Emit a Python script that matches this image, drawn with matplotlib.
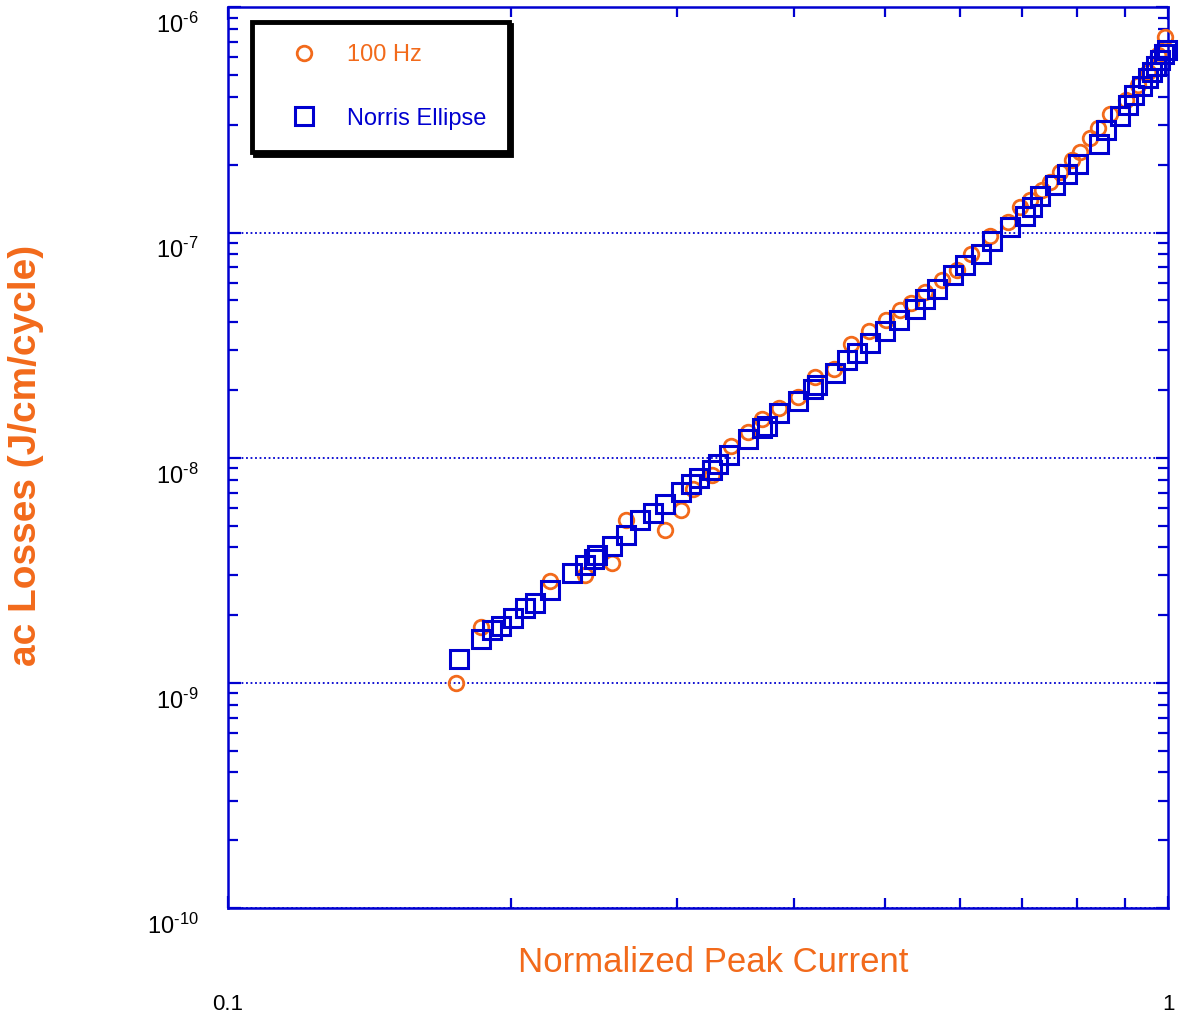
import numpy as np
import matplotlib.pyplot as plt
import matplotlib.transforms as mtransforms
from matplotlib.ticker import FixedLocator, LogLocator, FuncFormatter, NullFormatter

plt.rcParams['font.family'] = ['Liberation Sans', 'DejaVu Sans']
plt.rcParams['mathtext.fontset'] = 'custom'
plt.rcParams['mathtext.rm'] = 'Liberation Sans'
plt.rcParams['mathtext.it'] = 'Liberation Sans'

BLUE = '#0000d0'
ORANGE = '#f26a1b'

# 100 Hz measurements
hz_current = [0.175, 0.186, 0.220, 0.240, 0.256, 0.265, 0.292, 0.303, 0.312, 0.327,
              0.343, 0.357, 0.370, 0.386, 0.404, 0.421, 0.441, 0.460, 0.481, 0.501,
              0.519, 0.533, 0.552, 0.575, 0.597, 0.617, 0.647, 0.676, 0.696, 0.713,
              0.735, 0.749, 0.768, 0.791, 0.806, 0.826, 0.842, 0.868, 0.902, 0.929,
              0.952, 0.976, 0.993]
hz_loss = [1.00e-9, 1.77e-9, 2.83e-9, 3.01e-9, 3.40e-9, 5.28e-9, 4.77e-9, 5.85e-9, 7.25e-9, 8.37e-9,
           1.125e-8, 1.30e-8, 1.48e-8, 1.66e-8, 1.86e-8, 2.28e-8, 2.49e-8, 3.19e-8, 3.64e-8, 4.11e-8,
           4.51e-8, 4.89e-8, 5.42e-8, 6.19e-8, 6.85e-8, 8.07e-8, 9.70e-8, 1.12e-7, 1.30e-7, 1.40e-7,
           1.55e-7, 1.67e-7, 1.85e-7, 2.11e-7, 2.29e-7, 2.64e-7, 2.92e-7, 3.37e-7, 3.89e-7, 4.53e-7,
           5.18e-7, 6.16e-7, 7.40e-7]

# Norris ellipse prediction
norris_current = [0.176, 0.186, 0.191, 0.195, 0.201, 0.207, 0.212, 0.220, 0.232, 0.240,
                  0.245, 0.247, 0.256, 0.265, 0.274, 0.283, 0.292, 0.303, 0.311, 0.317,
                  0.327, 0.332, 0.341, 0.357, 0.370, 0.374, 0.386, 0.404, 0.419, 0.423,
                  0.442, 0.456, 0.467, 0.482, 0.500, 0.517, 0.538, 0.552, 0.568, 0.591,
                  0.608, 0.633, 0.650, 0.679, 0.705, 0.717, 0.731, 0.758, 0.781, 0.802,
                  0.845, 0.859, 0.889, 0.907, 0.920, 0.938, 0.952, 0.962, 0.971, 0.981,
                  0.990, 0.998]
norris_loss = [1.28e-9, 1.57e-9, 1.72e-9, 1.79e-9, 1.94e-9, 2.15e-9, 2.26e-9, 2.59e-9, 3.08e-9, 3.34e-9,
               3.55e-9, 3.70e-9, 4.05e-9, 4.53e-9, 5.28e-9, 5.67e-9, 6.22e-9, 7.03e-9, 7.63e-9, 8.11e-9,
               8.80e-9, 9.36e-9, 1.03e-8, 1.21e-8, 1.35e-8, 1.39e-8, 1.58e-8, 1.78e-8, 2.03e-8, 2.10e-8,
               2.37e-8, 2.71e-8, 2.91e-8, 3.22e-8, 3.64e-8, 4.07e-8, 4.56e-8, 5.05e-8, 5.59e-8, 6.51e-8,
               7.21e-8, 8.07e-8, 9.22e-8, 1.06e-7, 1.19e-7, 1.30e-7, 1.46e-7, 1.62e-7, 1.83e-7, 2.02e-7,
               2.48e-7, 2.86e-7, 3.30e-7, 3.70e-7, 4.09e-7, 4.49e-7, 4.87e-7, 5.18e-7, 5.50e-7, 5.85e-7,
               6.22e-7, 6.48e-7]

x_major = [0.1, 1]
y_major = [1e-10, 1e-9, 1e-8, 1e-7, 1e-6]

fig = plt.figure(figsize=(11.85, 10.23), dpi=100)
ax = fig.add_axes([0.1924, 0.1124, 0.7933, 0.8803])

ax.plot(hz_current, hz_loss, linestyle='none', marker='o', markersize=10.5,
        markerfacecolor='none', markeredgecolor=ORANGE, markeredgewidth=2,
        label='100 Hz', clip_on=False, zorder=3)
ax.plot(norris_current, norris_loss, linestyle='none', marker='s', markersize=13.5,
        markerfacecolor='none', markeredgecolor=BLUE, markeredgewidth=2.2,
        label='Norris Ellipse', clip_on=False, zorder=4)

ax.set_xscale('log')
ax.set_yscale('log')
ax.set_xlim(0.1, 1)
ax.set_ylim(1e-10, 1e-6)

ax.xaxis.set_major_locator(FixedLocator(x_major))
ax.xaxis.set_minor_locator(LogLocator(base=10, subs=np.arange(2, 10), numticks=20))
ax.yaxis.set_major_locator(FixedLocator(y_major))
ax.yaxis.set_minor_locator(LogLocator(base=10, subs=np.arange(2, 10), numticks=20))
ax.xaxis.set_major_formatter(FuncFormatter(lambda v, p: '%g' % v))
ax.xaxis.set_minor_formatter(NullFormatter())
ax.yaxis.set_major_formatter(FuncFormatter(lambda v, p: r'$10^{\text{-%d}}$' % abs(round(np.log10(v)))))
ax.yaxis.set_minor_formatter(NullFormatter())

ax.tick_params(which='both', direction='in', top=True, right=True, color=BLUE, width=1.6)
ax.tick_params(which='major', length=9)
ax.tick_params(which='minor', length=7)
ax.tick_params(axis='x', which='major', pad=62, labelsize=16)
ax.tick_params(axis='y', which='major', pad=21, labelsize=17)

# y labels hang a little below their tick, as in the original
shift = mtransforms.ScaledTranslation(0, -4 / 72, fig.dpi_scale_trans)
for tick in ax.yaxis.get_major_ticks():
    tick.label1.set_verticalalignment('top')
    tick.label1.set_transform(tick.label1.get_transform() + shift)

for s in ax.spines.values():
    s.set_color(BLUE)
    s.set_linewidth(1.8)

ax.yaxis.grid(True, which='major', color=BLUE, linestyle=(0, (1, 1.5)), linewidth=1.3)
ax.set_axisbelow(True)

ax.set_xlabel('Normalized Peak Current', color=ORANGE, fontsize=25)
ax.xaxis.set_label_coords(0.516, -0.042)
ax.set_ylabel('ac Losses (J/cm/cycle)', color=ORANGE, fontsize=28, fontweight='bold')
ax.yaxis.set_label_coords(-0.196, 0.503)

leg = ax.legend(loc='upper left', bbox_to_anchor=(0.026, 0.984), fontsize=17,
                handlelength=2.5, handletextpad=0.55, borderpad=0.95, labelspacing=1.75,
                borderaxespad=0, fancybox=False, framealpha=1,
                shadow={'color': 'black', 'alpha': 1, 'ox': 2, 'oy': -2})
leg.get_frame().set_edgecolor('black')
leg.get_frame().set_linewidth(3.5)
for txt, col in zip(leg.get_texts(), [ORANGE, BLUE]):
    txt.set_color(col)

fig.savefig('out.png', dpi=100)
